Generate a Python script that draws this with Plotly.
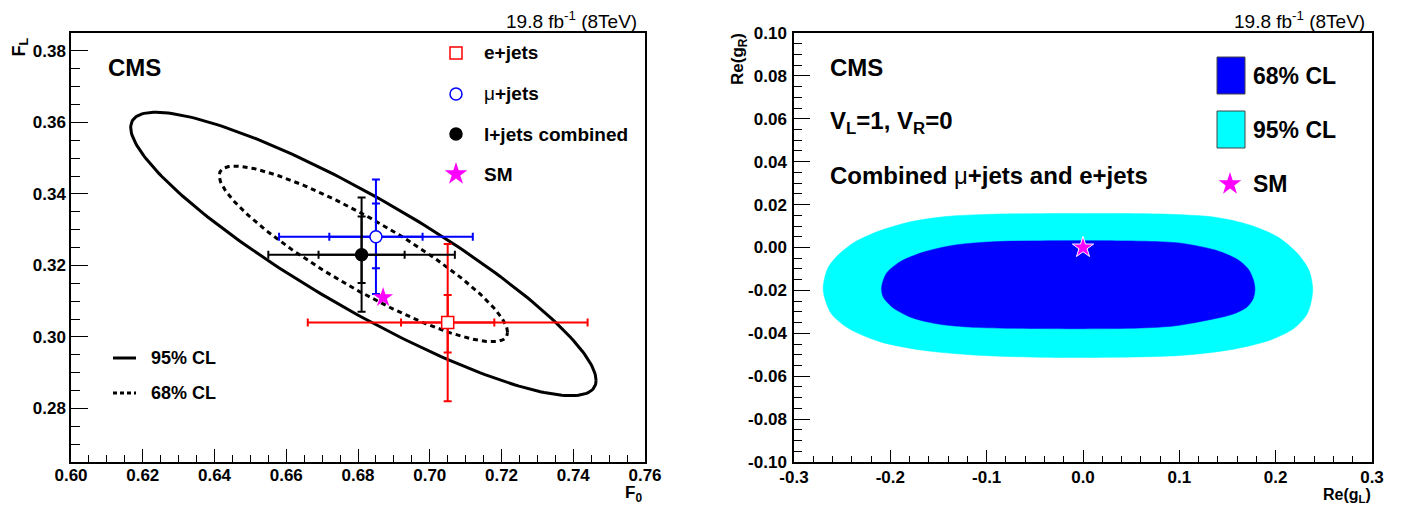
import numpy as np
import plotly.graph_objects as go

# window 1411x515; the page body adds an 8px margin
OFF = 8
W, H = 1411 - 2 * OFF, 515 - 2 * OFF

# ---------------- data: left panel (F0 vs FL) ----------------
channels = ["e+jets", "μ+jets", "l+jets combined"]
F0 = [0.705, 0.685, 0.681]
FL = [0.304, 0.328, 0.323]
F0_tot = [0.039, 0.027, 0.026]
F0_stat = [0.013, 0.013, 0.012]
FL_tot = [0.022, 0.016, 0.016]
FL_stat_hi = [0.0077, 0.0093, 0.0107]
FL_stat_lo = [0.0084, 0.0088, 0.0079]
SM_F0 = [0.687]
SM_FL = [0.311]

# combined-fit covariance (1 sigma) used for the CL ellipses
ell_center = [0.6815, 0.3232]
ell_sigma = [0.0265, 0.0162]
ell_rho = -0.892
CL_names = ["95% CL", "68% CL"]
CL_chi2 = [5.99, 2.30]

L_xticks = [0.60, 0.62, 0.64, 0.66, 0.68, 0.70, 0.72, 0.74, 0.76]
L_xticktext = ["0.60", "0.62", "0.64", "0.66", "0.68", "0.70", "0.72", "0.74", "0.76"]
L_yticks = [0.28, 0.30, 0.32, 0.34, 0.36, 0.38]
L_yticktext = ["0.28", "0.30", "0.32", "0.34", "0.36", "0.38"]

# ---------------- data: right panel (Re gL vs Re gR) ----------------
cl95_gL = [-0.0064, 0.0833, 0.1372, 0.1731, 0.2019, 0.2225, 0.2345, 0.2385,
           0.2330, 0.2190, 0.1947, 0.1552, 0.1013, 0.0295, -0.0424, -0.1142,
           -0.1681, -0.2111, -0.2435, -0.2615, -0.2697, -0.2650, -0.2542,
           -0.2363, -0.2111, -0.1789, -0.1430, -0.0962, -0.0064]
cl95_gR = [0.0159, 0.0156, 0.0141, 0.0105, 0.0050, -0.0027, -0.0105, -0.0198,
           -0.0307, -0.0377, -0.0431, -0.0475, -0.0503, -0.0512, -0.0512, -0.0501,
           -0.0478, -0.0439, -0.0377, -0.0307, -0.0198, -0.0097, -0.0035,
           0.0027, 0.0078, 0.0120, 0.0144, 0.0155, 0.0159]
cl68_gL = [-0.0064, 0.0654, 0.1013, 0.1372, 0.1600, 0.1715, 0.1768, 0.1785,
           0.1765, 0.1700, 0.1560, 0.1301, 0.0941, 0.0474, -0.0424, -0.1142, -0.1501,
           -0.1789, -0.1986, -0.2076, -0.2090, -0.2040, -0.1897, -0.1645,
           -0.1322, -0.0926, -0.0064]
cl68_gR = [0.0032, 0.0029, 0.0020, -0.0012, -0.0055, -0.0100, -0.0150, -0.0195,
           -0.0240, -0.0278, -0.0310, -0.0338, -0.0366, -0.0377, -0.0378, -0.0372, -0.0357,
           -0.0325, -0.0276, -0.0229, -0.0185, -0.0120, -0.0066, -0.0020,
           0.0012, 0.0027, 0.0032]
SM_gL = [0.0]
SM_gR = [0.0]

R_xticks = [-0.3, -0.2, -0.1, 0.0, 0.1, 0.2, 0.3]
R_xticktext = ["-0.3", "-0.2", "-0.1", "0.0", "0.1", "0.2", "0.3"]
R_yticks = [-0.10, -0.08, -0.06, -0.04, -0.02, 0.00, 0.02, 0.04, 0.06, 0.08, 0.10]
R_yticktext = ["-0.10", "-0.08", "-0.06", "-0.04", "-0.02", "0.00", "0.02", "0.04", "0.06", "0.08", "0.10"]

# ---------------- layout geometry (window pixels) ----------------
L_X0, L_X1 = 71, 645
R_X0, R_X1 = 794, 1372
Y_TOP, Y_BOT = 33, 462
L_XR = [0.60, 0.76]
L_YR = [0.265, 0.385]
R_XR = [-0.3, 0.3]
R_YR = [-0.1, 0.1]


def fx(p):
    return (p - OFF) / W


def fy(p):
    return 1 - (p - OFF) / H


def lx(p):  # window pixel -> left data x
    return L_XR[0] + (p - L_X0) / (L_X1 - L_X0) * (L_XR[1] - L_XR[0])


def ly(p):
    return L_YR[1] - (p - Y_TOP) / (Y_BOT - Y_TOP) * (L_YR[1] - L_YR[0])


def rx(p):
    return R_XR[0] + (p - R_X0) / (R_X1 - R_X0) * (R_XR[1] - R_XR[0])


def ry(p):
    return R_YR[1] - (p - Y_TOP) / (Y_BOT - Y_TOP) * (R_YR[1] - R_YR[0])


FONT = "Liberation Sans, Arial, Helvetica, sans-serif"
fig = go.Figure()

# ---- ellipses ----
t = np.linspace(0, 2 * np.pi, 241)
dashes = ["solid", "5px,4px"]
for name, chi2, dash in zip(CL_names, CL_chi2, dashes):
    k = np.sqrt(chi2)
    ex = ell_center[0] + k * ell_sigma[0] * np.cos(t)
    ey = ell_center[1] + k * ell_sigma[1] * (ell_rho * np.cos(t) + np.sqrt(1 - ell_rho ** 2) * np.sin(t))
    fig.add_trace(go.Scatter(x=ex, y=ey, mode="lines", line=dict(color="black", width=3, dash=dash),
                             showlegend=False, hoverinfo="skip", xaxis="x", yaxis="y"))

colors = ["#ff0000", "#0000ff", "#000000"]
symbols = ["square", "circle", "circle"]
fills = ["white", "white", "black"]

# ---- error bars: total and statistical ----
for i in range(3):
    fig.add_trace(go.Scatter(
        x=[F0[i]], y=[FL[i]], mode="markers", marker=dict(size=0, color=colors[i]),
        error_x=dict(type="data", symmetric=True, array=[F0_tot[i]], color=colors[i], thickness=2, width=4),
        error_y=dict(type="data", symmetric=True, array=[FL_tot[i]], color=colors[i], thickness=2, width=4),
        showlegend=False, hoverinfo="skip", xaxis="x", yaxis="y"))
    fig.add_trace(go.Scatter(
        x=[F0[i]], y=[FL[i]], mode="markers", marker=dict(size=0, color=colors[i]),
        error_x=dict(type="data", symmetric=True, array=[F0_stat[i]], color=colors[i], thickness=2, width=4),
        error_y=dict(type="data", symmetric=False, array=[FL_stat_hi[i]], arrayminus=[FL_stat_lo[i]],
                     color=colors[i], thickness=2, width=4),
        showlegend=False, hoverinfo="skip", xaxis="x", yaxis="y"))

# ---- markers ----
for i in range(3):
    fig.add_trace(go.Scatter(
        x=[F0[i]], y=[FL[i]], mode="markers",
        marker=dict(symbol=symbols[i], size=12, color=fills[i], line=dict(color=colors[i], width=1.5)),
        showlegend=False, hoverinfo="skip", xaxis="x", yaxis="y"))
fig.add_trace(go.Scatter(x=SM_F0, y=SM_FL, mode="markers",
                         marker=dict(symbol="star", size=15, color="#ff00ff", line=dict(width=0)),
                         showlegend=False, hoverinfo="skip", xaxis="x", yaxis="y"))

# ---- left legend symbols ----
leg_rows = [53, 94, 134, 174]
for i in range(3):
    fig.add_trace(go.Scatter(
        x=[lx(456)], y=[ly(leg_rows[i])], mode="markers",
        marker=dict(symbol=symbols[i], size=12, color=fills[i], line=dict(color=colors[i], width=1.5)),
        showlegend=False, hoverinfo="skip", xaxis="x", yaxis="y"))
fig.add_trace(go.Scatter(x=[lx(456)], y=[ly(leg_rows[3])], mode="markers",
                         marker=dict(symbol="star", size=17, color="#ff00ff", line=dict(width=0)),
                         showlegend=False, hoverinfo="skip", xaxis="x", yaxis="y"))

# ---- right panel contours ----
fig.add_trace(go.Scatter(x=cl95_gL, y=cl95_gR, mode="lines", fill="toself", fillcolor="#00ffff",
                         line=dict(color="#00ffff", width=0.5, shape="spline", smoothing=0.8),
                         showlegend=False, hoverinfo="skip", xaxis="x2", yaxis="y2"))
fig.add_trace(go.Scatter(x=cl68_gL, y=cl68_gR, mode="lines", fill="toself", fillcolor="#0000ff",
                         line=dict(color="#0000ff", width=0.5, shape="spline", smoothing=0.8),
                         showlegend=False, hoverinfo="skip", xaxis="x2", yaxis="y2"))
fig.add_trace(go.Scatter(x=SM_gL, y=SM_gR, mode="markers",
                         marker=dict(symbol="star", size=16, color="#ff00ff", line=dict(color="white", width=1)),
                         showlegend=False, hoverinfo="skip", xaxis="x2", yaxis="y2"))
fig.add_trace(go.Scatter(x=[rx(1230)], y=[ry(184)], mode="markers",
                         marker=dict(symbol="star", size=17, color="#ff00ff", line=dict(width=0)),
                         showlegend=False, hoverinfo="skip", xaxis="x2", yaxis="y2"))

# ---- shapes ----
shapes = [
    dict(type="line", xref="paper", yref="paper", x0=fx(113), x1=fx(136), y0=fy(358), y1=fy(358),
         line=dict(color="black", width=3)),
    dict(type="line", xref="paper", yref="paper", x0=fx(113), x1=fx(136), y0=fy(393), y1=fy(393),
         line=dict(color="black", width=3, dash="4px,3px")),
    dict(type="rect", xref="paper", yref="paper", x0=fx(1217), x1=fx(1245), y0=fy(57), y1=fy(94),
         fillcolor="#0000ff", line=dict(color="#444444", width=1)),
    dict(type="rect", xref="paper", yref="paper", x0=fx(1217), x1=fx(1245), y0=fy(111), y1=fy(148),
         fillcolor="#00ffff", line=dict(color="#444444", width=1)),
]


# ---- annotations ----
def ann(text, x, y, size, xanchor="left", bold=True, angle=0, yanchor="middle"):
    return dict(text=text, x=fx(x), y=fy(y), xref="paper", yref="paper", showarrow=False,
                xanchor=xanchor, yanchor=yanchor, textangle=angle,
                font=dict(family=FONT, size=size, color="black", weight="bold" if bold else "normal"))


annotations = [
    ann("19.8 fb<sup>-1</sup> (8TeV)", 639, 20, 19, xanchor="right", bold=False),
    ann("19.8 fb<sup>-1</sup> (8TeV)", 1367, 20, 19, xanchor="right", bold=False),
    ann("CMS", 106, 67, 24),
    ann("e+jets", 482, leg_rows[0], 19),
    ann("<span style='font-weight:normal'>μ</span>+jets", 482, leg_rows[1], 19),
    ann("l+jets combined", 482, leg_rows[2], 19),
    ann("SM", 482, leg_rows[3], 19),
    ann("95% CL", 149, 358, 18),
    ann("68% CL", 149, 393, 18),
    ann("F<sub>L</sub>", 20, 36, 18, xanchor="center", angle=-90, yanchor="top"),
    ann("F<sub>0</sub>", 644, 507, 17, xanchor="right", yanchor="bottom"),
    ann("CMS", 828, 67, 24),
    ann("V<sub>L</sub>=1, V<sub>R</sub>=0", 828, 122, 24),
    ann("Combined <span style='font-weight:normal'>μ</span>+jets and e+jets", 828, 175, 24),
    ann("68% CL", 1251, 76, 23),
    ann("95% CL", 1251, 130, 23),
    ann("SM", 1251, 184, 23),
    ann("Re(g<sub>R</sub>)", 739, 31, 17, xanchor="center", angle=-90, yanchor="top"),
    ann("Re(g<sub>L</sub>)", 1373, 507, 16, xanchor="right", yanchor="bottom"),
]

tickfont = dict(family=FONT, size=17, color="black", weight="bold")


def axis(domain, rng, tickvals, ticktext, mdtick, ticklen, mticklen, anchor, standoff=0):
    return dict(domain=domain, range=rng, anchor=anchor, tickmode="array", tickvals=tickvals,
                ticktext=ticktext, automargin=False, ticklabelstandoff=standoff,
                ticks="inside", ticklen=ticklen, tickwidth=1, tickcolor="black",
                minor=dict(ticks="inside", ticklen=mticklen, dtick=mdtick, tick0=0, tickwidth=1,
                           tickcolor="black"),
                showline=True, linecolor="black", linewidth=1.5, mirror=True,
                showgrid=False, zeroline=False, tickfont=tickfont, fixedrange=True)


ydom = [fy(Y_BOT), fy(Y_TOP)]
fig.update_layout(
    width=W, height=H, margin=dict(l=0, r=0, t=0, b=0, autoexpand=False),
    paper_bgcolor="white", plot_bgcolor="white", showlegend=False, hovermode=False,
    xaxis=axis([fx(L_X0), fx(L_X1)], L_XR, L_xticks, L_xticktext, 0.005, 13, 7, "y", -3),
    yaxis=axis(ydom, L_YR, L_yticks, L_yticktext, 0.005, 17, 9, "x"),
    xaxis2=axis([fx(R_X0), fx(R_X1)], R_XR, R_xticks, R_xticktext, 0.02, 12, 6, "y2", -1),
    yaxis2=axis(ydom, R_YR, R_yticks, R_yticktext, 0.005, 16, 8, "x2", 2),
    shapes=shapes, annotations=annotations,
)

fig.write_html("out.html", config=dict(displayModeBar=False))
